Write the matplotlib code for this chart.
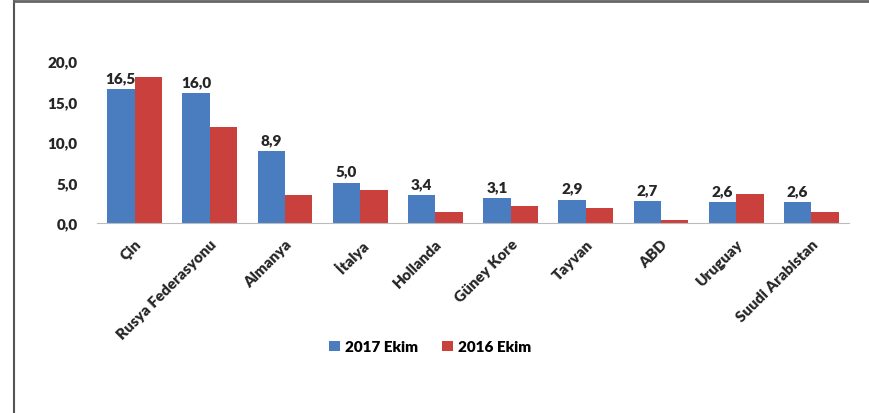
import matplotlib
matplotlib.use("Agg")
import matplotlib.pyplot as plt
from matplotlib.lines import Line2D
import numpy as np

plt.rcParams['font.family'] = ['Lato', 'DejaVu Sans']
plt.rcParams['font.weight'] = 'heavy'

countries = ['Çin', 'Rusya Federasyonu', 'Almanya', 'İtalya', 'Hollanda',
             'Güney Kore', 'Tayvan', 'ABD', 'Uruguay', 'Suudi Arabistan']
ekim_2017 = [16.5, 16.0, 8.9, 5.0, 3.4, 3.1, 2.9, 2.7, 2.6, 2.6]
ekim_2016 = [18.0, 11.9, 3.5, 4.1, 1.4, 2.1, 1.8, 0.4, 3.6, 1.4]
yticks = [0, 5, 10, 15, 20]

blue = '#4a7dc0'
red = '#c9403d'
txt = '#262626'

fig = plt.figure(figsize=(8.69, 4.14), dpi=100)
ax = fig.add_axes([0.1116, 0.459, 0.8654, 0.391])

x = np.arange(len(countries))
w = 0.365
ax.bar(x - w / 2, ekim_2017, w, color=blue, label='2017 Ekim')
ax.bar(x + w / 2, ekim_2016, w, color=red, label='2016 Ekim')

for xi, v in zip(x, ekim_2017):
    ax.text(xi - w / 2, v + 0.6, f'{v:.1f}'.replace('.', ','), ha='center', va='bottom',
            fontsize=11, fontweight='heavy', color=txt, clip_on=False)

ax.set_xlim(-0.5, len(countries) - 0.5)
ax.set_ylim(0, 20)
ax.set_yticks(yticks)
ax.set_yticklabels([f'{t:.1f}'.replace('.', ',') for t in yticks], fontsize=11, fontweight='heavy')
ax.set_xticks(x)
ax.set_xticklabels(countries, rotation=45, ha='right', rotation_mode='anchor',
                   fontsize=11, fontweight='heavy')
ax.tick_params(axis='y', length=0, pad=14, colors=txt)
ax.tick_params(axis='x', length=0, pad=10, colors=txt)

for s in ['top', 'right', 'left']:
    ax.spines[s].set_visible(False)
ax.spines['bottom'].set_color('#bbbbbb')

fig.legend(loc='center', bbox_to_anchor=(0.495, 0.16), ncol=2, frameon=False,
           handlelength=0.7, handleheight=0.7, handletextpad=0.3, columnspacing=1.6,
           prop={'size': 11, 'weight': 'heavy'})

# frame lines of the picture
fig.add_artist(Line2D([14 / 869, 14 / 869], [0, 1 - 1 / 414], color='#555555', lw=1.5))
fig.add_artist(Line2D([14 / 869, 1], [1 - 1.5 / 414, 1 - 1.5 / 414], color='#666666', lw=2))

fig.savefig('out.png', dpi=100)
